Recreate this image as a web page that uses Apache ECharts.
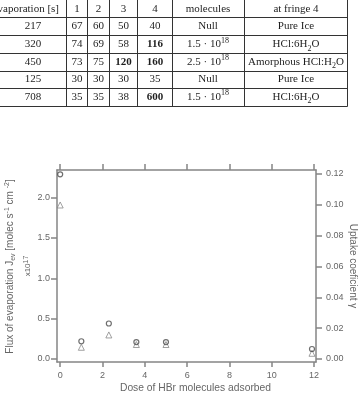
<!DOCTYPE html>
<html>
<head>
<meta charset="utf-8">
<script src="https://cdn.jsdelivr.net/npm/echarts@6/dist/echarts.min.js"></script>
<style>
  html, body { margin: 0; padding: 0; background: #fff; }
  #chart { width: 358px; height: 397px; }
</style>
</head>
<body>
<div id="chart"></div>
<script>
// table rows (top of the figure)
const tableHeader = ['evaporation [s]', '1', '2', '3', '4', 'molecules', 'at fringe 4'];
const evapTimes = ['217', '320', '450', '125', '708'];
const fringe1 = ['67', '74', '73', '30', '35'];
const fringe2 = ['60', '69', '75', '30', '35'];
const fringe3 = ['50', '58', '120', '30', '38'];
const fringe4 = ['40', '116', '160', '35', '600'];
const boldFringe3 = [false, false, true, false, false];
const boldFringe4 = [false, true, true, false, true];
const hclMolecules = ['Null', '1.5 · 10{sup|18}', '2.5 · 10{sup|18}', 'Null', '1.5 · 10{sup|18}'];
const iceState = ['Pure Ice', 'HCl:6H{sub|2}O', 'Amorphous HCl:H{sub|2}O', 'Pure Ice', 'HCl:6H{sub|2}O'];

// chart data
const doseCircle = [0, 1, 2.3, 3.6, 5, 11.9];
const fluxValues = [2.29, 0.22, 0.44, 0.21, 0.21, 0.124];
const doseTriangle = [0, 1, 2.3, 3.6, 5, 11.9];
const uptakeValues = [0.0999, 0.0076, 0.0156, 0.0094, 0.0094, 0.0037];

// tick labels
const doseTicks = [0, 2, 4, 6, 8, 10, 12];
const fluxTicks = [0, 0.5, 1.0, 1.5, 2.0];
const uptakeTicks = [0, 0.02, 0.04, 0.06, 0.08, 0.10, 0.12];

const chart = echarts.init(document.getElementById('chart'));

const axisGrey = '#858585';
const textGrey = '#666';
const sans = '"Liberation Sans", Arial, sans-serif';
const serif = '"Liberation Serif", "Times New Roman", serif';
const ink = '#1e1e1e';

// --- table drawn with graphic elements ---
const colEdges = [66.5, 87.5, 109.5, 137.5, 172.5, 244.5, 347.5];
const colCenters = [33, 77, 98.5, 123.5, 155, 208, 296];
const rowLines = [17.5, 35.5, 53.5, 71.5, 88.5, 106.5];
const rowCenters = [9, 26.5, 44.5, 62, 79.5, 97];

const tableRich = {
  sup: { fontSize: 8, fontFamily: serif, lineHeight: 8, verticalAlign: 'top' },
  sub: { fontSize: 8, fontFamily: serif, lineHeight: 8, verticalAlign: 'bottom' }
};

function cell(text, x, y, bold, align) {
  return {
    type: 'text',
    silent: true,
    style: {
      text: text,
      x: x,
      y: y,
      align: align || 'center',
      verticalAlign: 'middle',
      fontSize: 11,
      fontFamily: serif,
      fontWeight: bold ? 'bold' : 'normal',
      fill: ink,
      lineHeight: 16,
      rich: tableRich
    }
  };
}

let graphics = [];
colEdges.forEach(function (x) {
  graphics.push({ type: 'line', silent: true, shape: { x1: x, y1: 0, x2: x, y2: 106.5 }, style: { stroke: '#333', lineWidth: 1 } });
});
rowLines.forEach(function (y) {
  graphics.push({ type: 'line', silent: true, shape: { x1: 0, y1: y, x2: 347.5, y2: y }, style: { stroke: '#333', lineWidth: 1 } });
});
tableHeader.forEach(function (h, i) {
  if (i === 0) {
    graphics.push(cell(h, 59, rowCenters[0], false, 'right'));
  } else {
    graphics.push(cell(h, colCenters[i], rowCenters[0]));
  }
});
for (let r = 0; r < evapTimes.length; r++) {
  const y = rowCenters[r + 1];
  graphics.push(cell(evapTimes[r], colCenters[0], y));
  graphics.push(cell(fringe1[r], colCenters[1], y));
  graphics.push(cell(fringe2[r], colCenters[2], y));
  graphics.push(cell(fringe3[r], colCenters[3], y, boldFringe3[r]));
  graphics.push(cell(fringe4[r], colCenters[4], y, boldFringe4[r]));
  graphics.push(cell(hclMolecules[r], colCenters[5], y));
  graphics.push(cell(iceState[r], colCenters[6], y));
}

// --- axis titles ---
const nameRich = {
  sup: { fontSize: 7, fontFamily: sans, lineHeight: 6, verticalAlign: 'top' },
  sub: { fontSize: 7, fontFamily: sans, lineHeight: 6, verticalAlign: 'bottom' }
};
graphics.push({
  type: 'text', silent: true, x: 10, y: 266.5, rotation: Math.PI / 2,
  style: {
    text: 'Flux of evaporation J{sub|ev} [molec s{sup|-1} cm {sup|-2}]',
    x: 0, y: 0, align: 'center', verticalAlign: 'middle',
    fontSize: 10, fontFamily: sans, fill: textGrey, lineHeight: 13, rich: nameRich
  }
});
graphics.push({
  type: 'text', silent: true, x: 28, y: 266, rotation: Math.PI / 2,
  style: {
    text: 'x10{sup|17}',
    x: 0, y: 0, align: 'center', verticalAlign: 'middle',
    fontSize: 8, fontFamily: sans, fill: textGrey, lineHeight: 11, rich: nameRich
  }
});
graphics.push({
  type: 'text', silent: true, x: 353, y: 266, rotation: -Math.PI / 2,
  style: {
    text: 'Uptake coeficient γ',
    x: 0, y: 0, align: 'center', verticalAlign: 'middle',
    fontSize: 10, fontFamily: sans, fill: textGrey
  }
});
graphics.push({
  type: 'text', silent: true, x: 195.5, y: 388,
  style: {
    text: 'Dose of HBr molecules adsorbed',
    x: 0, y: 0, align: 'center', verticalAlign: 'middle',
    fontSize: 10.3, fontFamily: sans, fill: textGrey
  }
});

function pairs(xs, ys) {
  return xs.map(function (x, i) { return [x, ys[i]]; });
}

const lineStyle = { color: axisGrey, width: 1.5 };
const labelStyle = { color: textGrey, fontSize: 9, fontFamily: sans };

const chartOptions = {
  animation: false,
  backgroundColor: '#fff',
  grid: { left: 57, right: 42, top: 170, bottom: 35, containLabel: false },
  xAxis: [
    {
      type: 'value', position: 'bottom', min: -0.15, max: 12.09,
      axisLine: { show: true, onZero: false, lineStyle: lineStyle },
      axisTick: { show: true, length: 5, lineStyle: lineStyle, customValues: doseTicks },
      axisLabel: { show: true, margin: 9, customValues: doseTicks, ...labelStyle },
      splitLine: { show: false }
    },
    {
      type: 'value', position: 'top', min: -0.15, max: 12.09,
      axisLine: { show: true, onZero: false, lineStyle: lineStyle },
      axisTick: { show: true, length: 6, lineStyle: lineStyle, customValues: doseTicks },
      axisLabel: { show: false },
      splitLine: { show: false }
    }
  ],
  yAxis: [
    {
      type: 'value', position: 'left', min: -0.037, max: 2.343,
      axisLine: { show: true, onZero: false, lineStyle: lineStyle },
      axisTick: { show: true, length: 6, lineStyle: lineStyle, customValues: fluxTicks },
      axisLabel: {
        show: true, margin: 7, customValues: fluxTicks, ...labelStyle,
        formatter: function (v) { return v.toFixed(1); }
      },
      splitLine: { show: false }
    },
    {
      type: 'value', position: 'right', min: -0.00195, max: 0.1226,
      axisLine: { show: true, onZero: false, lineStyle: lineStyle },
      axisTick: { show: true, length: 6, lineStyle: lineStyle, customValues: uptakeTicks },
      axisLabel: {
        show: true, margin: 10, customValues: uptakeTicks, ...labelStyle,
        formatter: function (v) { return v.toFixed(2); }
      },
      splitLine: { show: false }
    }
  ],
  series: [
    {
      type: 'scatter', xAxisIndex: 0, yAxisIndex: 1,
      data: pairs(doseTriangle, uptakeValues),
      symbol: 'triangle', symbolSize: 6,
      itemStyle: { color: 'rgba(0,0,0,0)', borderColor: '#8a8a8a', borderWidth: 1 }
    },
    {
      type: 'scatter', xAxisIndex: 0, yAxisIndex: 0,
      data: pairs(doseCircle, fluxValues),
      symbol: 'circle', symbolSize: 5,
      itemStyle: { color: 'rgba(0,0,0,0)', borderColor: '#4a4a4a', borderWidth: 1.2 }
    }
  ],
  graphic: graphics
};

chart.setOption(chartOptions);
</script>
</body>
</html>
